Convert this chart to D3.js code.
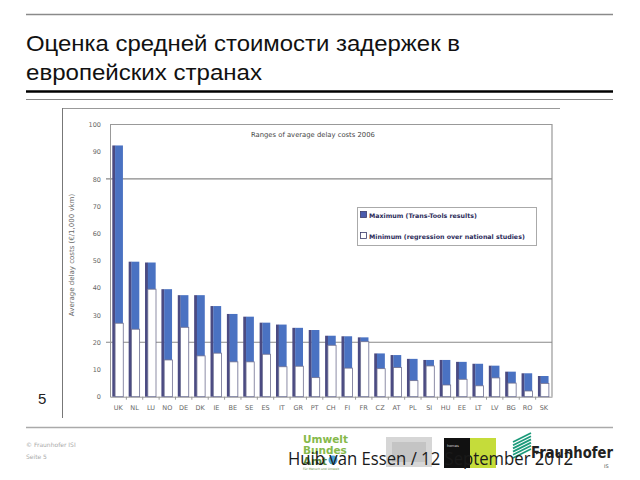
<!DOCTYPE html>
<html>
<head>
<meta charset="utf-8">
<script src="https://cdn.jsdelivr.net/npm/d3@7"></script>
<style>
  html, body { margin: 0; padding: 0; background: #fff; }
  svg { display: block; }
</style>
</head>
<body>
<script>
// ---- data ----
const countries = ["UK","NL","LU","NO","DE","DK","IE","BE","SE","ES","IT","GR","PT","CH","FI","FR","CZ","AT","PL","SI","HU","EE","LT","LV","BG","RO","SK"];
const maxVals = [92.3,49.6,49.3,39.5,37.3,37.3,33.3,30.4,29.4,27.2,26.5,25.3,24.5,22.4,22.2,21.8,15.9,15.3,13.9,13.5,13.5,12.8,12.1,11.4,9.2,8.6,7.6];
const minVals = [27.0,24.8,39.5,13.5,25.5,15.0,16.0,12.8,12.8,15.6,11.0,11.2,7.0,18.9,10.5,20.2,10.3,10.7,5.9,11.3,4.3,6.4,4.0,6.9,5.0,2.1,4.9];
const yTicks = [0,10,20,30,40,50,60,70,80,90,100];
const gridVals = [20, 80];
const titleLines = ["Оценка средней стоимости задержек в", "европейских странах"];
const chartTitle = "Ranges of average delay costs 2006";
const yLabel = "Average delay costs (€/1,000 vkm)";
const legendLabels = ["Maximum (Trans-Tools results)", "Minimum (regression over national studies)"];

const W = 640, H = 480;
const svg = d3.select("body").append("svg").attr("width", W).attr("height", H);

// ---- slide decorations ----
svg.append("line").attr("x1",26).attr("x2",613).attr("y1",14.5).attr("y2",14.5).attr("stroke","#8a8a8a").attr("stroke-width",1.5);
titleLines.forEach((t,i)=>{
  svg.append("text").attr("x",26).attr("y",i===0?51:80)
    .attr("font-family","'Liberation Sans', Arial, sans-serif")
    .attr("font-size",22).attr("fill","#111")
    .attr("textLength", i===0?434:236).attr("lengthAdjust","spacingAndGlyphs")
    .text(t);
});
svg.append("line").attr("x1",26).attr("x2",613).attr("y1",91.5).attr("y2",91.5).attr("stroke","#000").attr("stroke-width",2.5);
svg.append("line").attr("x1",26).attr("x2",613).attr("y1",99.5).attr("y2",99.5).attr("stroke","#888").attr("stroke-width",1.2);

// chart picture frame
svg.append("line").attr("x1",62.5).attr("x2",560).attr("y1",108.5).attr("y2",108.5).attr("stroke","#999").attr("stroke-width",1);
svg.append("line").attr("x1",62.5).attr("x2",62.5).attr("y1",108).attr("y2",418).attr("stroke","#777").attr("stroke-width",1);
svg.append("text").attr("x",38).attr("y",404).attr("font-family","'Liberation Sans', Arial, sans-serif").attr("font-size",15).attr("fill","#222").text("5");

// ---- chart ----
const plot = {left:110, right:552, top:124.5, bottom:396.7};
const x = d3.scaleBand().domain(countries).range([plot.left, plot.right]).padding(0);
const y = d3.scaleLinear().domain([0,100]).range([plot.bottom, plot.top]);
const bw = x.bandwidth();

const g = svg.append("g");
// plot border (top, right)
g.append("path").attr("d",`M${plot.left},${plot.top}H${plot.right}V${plot.bottom}`).attr("fill","none").attr("stroke","#999").attr("stroke-width",1.2);
// gridlines
g.selectAll("line.grid").data(gridVals).join("line").attr("class","grid")
  .attr("x1",plot.left-4).attr("x2",plot.right).attr("y1",d=>y(d)).attr("y2",d=>y(d))
  .attr("stroke","#888").attr("stroke-width",1.2);

// y axis
const yAxis = d3.axisLeft(y).tickValues(yTicks).tickSize(0).tickPadding(9);
const ya = g.append("g").attr("transform",`translate(${plot.left},0)`).call(yAxis);
ya.select(".domain").attr("stroke","#999");
ya.selectAll("text").attr("font-family","'DejaVu Sans', sans-serif").attr("font-size",6.5).attr("fill","#666");

// x axis
const xAxis = d3.axisBottom(x).tickSize(0).tickPadding(9);
const xa = g.append("g").attr("transform",`translate(0,${plot.bottom})`).call(xAxis);
xa.select(".domain").attr("stroke","#999");
xa.selectAll("text").attr("font-family","'DejaVu Sans', sans-serif").attr("font-size",6.5).attr("fill","#666");
g.selectAll("line.xt").data(countries.slice(1)).join("line").attr("class","xt")
  .attr("x1",d=>x(d)).attr("x2",d=>x(d)).attr("y1",plot.bottom).attr("y2",plot.bottom+3)
  .attr("stroke","#999");

// bars
const bars = g.selectAll("g.bar").data(countries.map((c,i)=>({c, mx:maxVals[i], mn:minVals[i]}))).join("g").attr("class","bar");
// dark side strip
bars.append("rect").attr("x",d=>x(d.c)+bw*0.14).attr("width",bw*0.18)
  .attr("y",d=>y(d.mx)).attr("height",d=>plot.bottom-y(d.mx)).attr("fill","#4b4b82");
// blue max
bars.append("rect").attr("x",d=>x(d.c)+bw*0.31).attr("width",bw*0.48)
  .attr("y",d=>y(d.mx)).attr("height",d=>plot.bottom-y(d.mx)).attr("fill","#4a72c2");
// white min
bars.append("rect").attr("x",d=>x(d.c)+bw*0.31).attr("width",bw*0.5)
  .attr("y",d=>y(d.mn)).attr("height",d=>plot.bottom-y(d.mn)).attr("fill","#fff")
  .attr("stroke","#707090").attr("stroke-width",0.8);

// chart title
g.append("text").attr("x",251).attr("y",137).attr("font-family","'DejaVu Sans', sans-serif").attr("font-size",6.8).attr("fill","#444").text(chartTitle);
// y label
g.append("text").attr("transform","translate(74,255) rotate(-90)").attr("text-anchor","middle")
  .attr("font-family","'DejaVu Sans', sans-serif").attr("font-size",7).attr("fill","#666").text(yLabel);

// legend
const lg = g.append("g");
lg.append("rect").attr("x",357.5).attr("y",207.5).attr("width",179).attr("height",38).attr("fill","#fff").attr("stroke","#aaa");
legendLabels.forEach((t,i)=>{
  const yy = 216 + i*21;
  lg.append("rect").attr("x",360.5).attr("y",yy-4.5).attr("width",6).attr("height",6)
    .attr("fill", i===0?"#4a5cae":"#fff").attr("stroke","#3a3a6a").attr("stroke-width",0.8);
  lg.append("text").attr("x",369).attr("y",yy+1.5).attr("font-family","'DejaVu Sans', sans-serif")
    .attr("font-size",6.3).attr("font-weight","bold").attr("fill","#2c2c5a").text(t);
});

// ---- footer ----
svg.append("line").attr("x1",26).attr("x2",613).attr("y1",427.5).attr("y2",427.5).attr("stroke","#aaa").attr("stroke-width",1.5);
svg.append("text").attr("x",26).attr("y",447).attr("font-family","'DejaVu Sans', sans-serif").attr("font-size",6).attr("fill","#aaa").text("© Fraunhofer ISI");
svg.append("text").attr("x",26).attr("y",459).attr("font-family","'DejaVu Sans', sans-serif").attr("font-size",6).attr("fill","#aaa").text("Seite 5");

// Umweltbundesamt logo
const uf = "'DejaVu Sans', sans-serif";
svg.append("text").attr("x",303).attr("y",443).attr("font-family",uf).attr("font-size",10.5).attr("font-weight","bold").attr("fill","#86b94a").text("Umwelt");
svg.append("text").attr("x",303).attr("y",454).attr("font-family",uf).attr("font-size",10.5).attr("font-weight","bold").attr("fill","#86b94a").text("Bundes");
svg.append("text").attr("x",303).attr("y",465).attr("font-family",uf).attr("font-size",10.5).attr("font-weight","bold").attr("fill","#5a8a3a").text("Amt");
svg.append("circle").attr("cx",333).attr("cy",460).attr("r",4.5).attr("fill","#4aa3d8");
svg.append("text").attr("x",303).attr("y",470).attr("font-family",uf).attr("font-size",3).attr("fill","#5a8a3a").text("Für Mensch und Umwelt");
// grey logo
svg.append("rect").attr("x",386).attr("y",437).attr("width",46).attr("height",30).attr("fill","#d6d6d6");
svg.append("rect").attr("x",392).attr("y",442).attr("width",34).attr("height",20).attr("fill","#c4c4c4");
// black / green logo
svg.append("rect").attr("x",444).attr("y",438).attr("width",26).attr("height",30).attr("fill","#111");
svg.append("rect").attr("x",470).attr("y",438).attr("width",26).attr("height",30).attr("fill","#c5dc3a");
svg.append("text").attr("x",447).attr("y",447).attr("font-family",uf).attr("font-size",3.5).attr("fill","#ddd").text("homas");
// Fraunhofer logo
const fg = svg.append("g");
for (let i=0;i<6;i++){
  fg.append("line").attr("x1",513).attr("y1",458-i*3.2).attr("x2",531).attr("y2",449-i*3.2)
    .attr("stroke","#1b9a7a").attr("stroke-width",1.8);
}
fg.append("text").attr("x",531).attr("y",458).attr("font-family","'DejaVu Sans', sans-serif").attr("font-size",15.5).attr("font-weight","bold").attr("fill","#222").attr("textLength",82).attr("lengthAdjust","spacingAndGlyphs").text("Fraunhofer");
fg.append("text").attr("x",604).attr("y",468).attr("font-family",uf).attr("font-size",5).attr("fill","#555").text("IS");

// overlay footer text
svg.append("text").attr("x",288).attr("y",465).attr("font-family","'Open Sans', sans-serif").attr("font-size",17.5).attr("fill","#1a1a1a")
  .attr("textLength",285).attr("lengthAdjust","spacingAndGlyphs").text("Huib van Essen / 12 September 2012");
</script>
</body>
</html>
